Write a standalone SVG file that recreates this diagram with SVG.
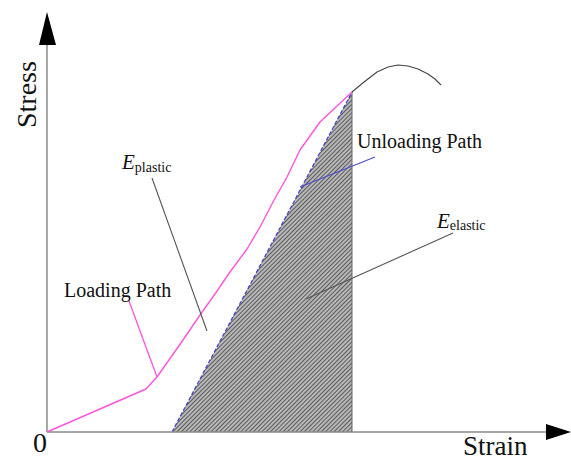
<svg xmlns="http://www.w3.org/2000/svg" width="571" height="461" viewBox="0 0 571 461">
  <style>
    .lbl { font-family: "Liberation Serif", "Times New Roman", serif; fill: #111; }
    .axis { stroke: #8a8a8a; stroke-width: 1.5; fill: none; }
    .load { stroke: #ff55dd; stroke-width: 1.4; fill: none; stroke-linejoin: round; }
    .leader { stroke: #555; stroke-width: 1.1; fill: none; }
  </style>
  <defs>
    <pattern id="hatch" patternUnits="userSpaceOnUse" width="3" height="3" patternTransform="rotate(-45)">
      <rect width="3" height="3" fill="#bdbdbd"/>
      <line x1="0" y1="1.5" x2="3" y2="1.5" stroke="#5a5a5a" stroke-width="1.1"/>
    </pattern>
  </defs>
  <rect width="571" height="461" fill="#ffffff"/>

  <g id="elastic-area">
    <polygon points="172,432 352,92 352,432" fill="url(#hatch)"/>
    <line x1="352" y1="92" x2="352" y2="432" stroke="#666" stroke-width="1"/>
    <line x1="172" y1="432" x2="352" y2="92" stroke="#4646c8" stroke-width="1.3" stroke-dasharray="4,2"/>
  </g>

  <g id="axes">
    <line class="axis" x1="47" y1="432" x2="47" y2="40"/>
    <polygon points="47,12 39,45 56,45" fill="#000"/>
    <line class="axis" x1="47" y1="432" x2="550" y2="432"/>
    <polygon points="571,432 546,424 546,440" fill="#000"/>
  </g>

  <g id="curves">
    <polyline class="load" points="47,432 146,389 157,377 183,340 200,315 215,294 230,272 247,249 260,227 273,202 287,177 300,150 320,122 337,106 352,92"/>
    <polyline points="352,92 364,82 377,72 388,67 398,65 408,66 418,69 428,74 435,79 441,85" stroke="#444" stroke-width="1.1" fill="none" stroke-linejoin="round"/>
  </g>

  <g id="connectors">
    <line class="leader" x1="152" y1="178" x2="207" y2="331"/>
    <line x1="129" y1="301" x2="157" y2="377" stroke="#ff55dd" stroke-width="1.3"/>
    <line class="leader" x1="453" y1="233" x2="306" y2="299"/>
    <line x1="375" y1="157" x2="300" y2="187" stroke="#5050d0" stroke-width="1.2"/>
  </g>

  <g id="label-stress">
    <text class="lbl" font-size="28" transform="translate(36,128) rotate(-90)">Stress</text>
  </g>
  <g id="label-strain">
    <text class="lbl" font-size="27" x="463" y="455">Strain</text>
  </g>
  <g id="label-origin">
    <text class="lbl" font-size="28" x="33" y="452">0</text>
  </g>
  <g id="label-unloading">
    <text class="lbl" font-size="20" x="357" y="148">Unloading Path</text>
  </g>
  <g id="label-loading">
    <text class="lbl" font-size="20" x="64" y="297">Loading Path</text>
  </g>
  <g id="label-eplastic">
    <text class="lbl" x="122" y="169"><tspan font-size="21" font-style="italic">E</tspan><tspan font-size="14" dy="3">plastic</tspan></text>
  </g>
  <g id="label-eelastic">
    <text class="lbl" x="437" y="228"><tspan font-size="21" font-style="italic">E</tspan><tspan font-size="14" dy="2">elastic</tspan></text>
  </g>
</svg>
